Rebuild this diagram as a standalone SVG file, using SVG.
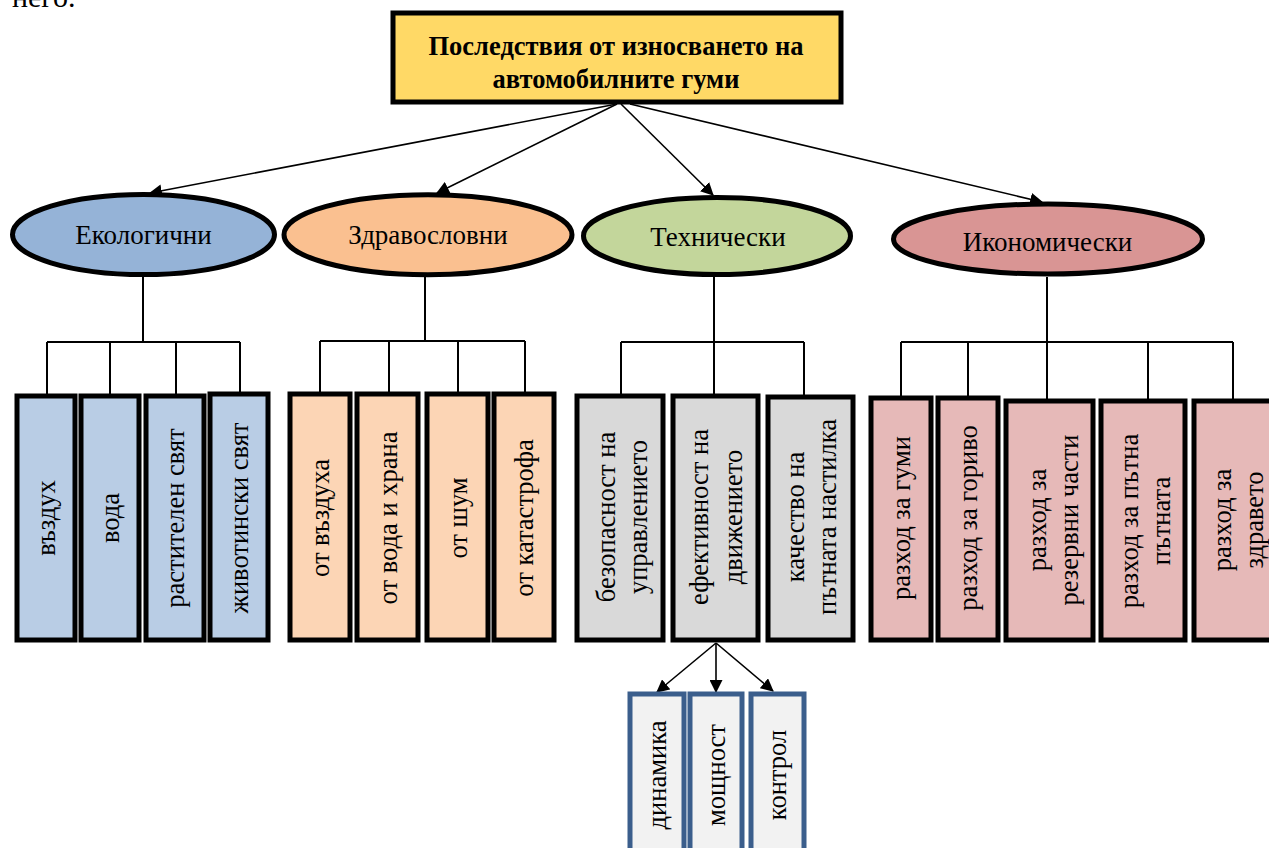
<svg xmlns="http://www.w3.org/2000/svg" width="1269" height="848" viewBox="0 0 1269 848">
<defs>
<marker id="ah" viewBox="0 0 12 12" refX="11" refY="6" markerWidth="13" markerHeight="13" markerUnits="userSpaceOnUse" orient="auto">
<path d="M0,0 L12,6 L0,12 z" fill="#000"/>
</marker>
<style>
text{font-family:"Liberation Serif","Times New Roman",serif;fill:#000}
.t{font-size:26.5px;font-weight:bold;text-anchor:middle}
.e{font-size:27px;text-anchor:middle;dominant-baseline:central}
.v{font-size:26.5px;text-anchor:middle;dominant-baseline:central}
.ell{stroke:#000;stroke-width:5}
.box{stroke:#000;stroke-width:5}
.sb{stroke:#3B5E8C;stroke-width:5;fill:#F2F2F2}
.ln{stroke:#000;stroke-width:2;fill:none}
.ar{stroke:#000;stroke-width:1.6;fill:none;marker-end:url(#ah)}
.eco{fill:#B9CDE5}.hl{fill:#FCD5B5}.te{fill:#D9D9D9}.ec{fill:#E6B9B8}
</style>
</defs>
<rect width="1269" height="848" fill="#fff"/>
<text x="12" y="7" style="font-size:30px">него.</text>

<g id="connectors">
<line class="ar" x1="617" y1="104" x2="150" y2="193"/>
<line class="ar" x1="617" y1="104" x2="437" y2="193"/>
<line class="ar" x1="621" y1="104" x2="713" y2="195"/>
<line class="ar" x1="630" y1="104" x2="1042" y2="202"/>
<path class="ln" d="M143,277 V342 M47,342 H240 M47,342 V395 M110,342 V395 M176,342 V395 M240,342 V393"/>
<path class="ln" d="M425,277 V341 M320,341 H525 M320,341 V393 M389,341 V393 M458,341 V393 M525,341 V393"/>
<path class="ln" d="M714,277 V395 M621,342 H804 M621,342 V395 M804,342 V395"/>
<path class="ln" d="M1047,277 V342 M901,342 H1233 M901,342 V397 M968,342 V397 M1047,342 V400 M1148,342 V400 M1233,342 V400"/>
<line class="ar" x1="716" y1="643" x2="657" y2="692"/>
<line class="ar" x1="716" y1="643" x2="716" y2="692"/>
<line class="ar" x1="716" y1="643" x2="773" y2="691"/>
</g>

<g id="title">
<rect x="393" y="13" width="448" height="89" fill="#FFD966" stroke="#000" stroke-width="5"/>
<text class="t" x="616" y="55">Последствия от износването на</text>
<text class="t" x="616" y="88">автомобилните гуми</text>
</g>

<g id="ekologichni"><ellipse class="ell" cx="143.5" cy="234.5" rx="131" ry="40" fill="#95B3D7"/><text class="e" x="143.5" y="235">Екологични</text></g>
<g id="zdravoslovni"><ellipse class="ell" cx="428" cy="234.7" rx="144" ry="40" fill="#FAC090"/><text class="e" x="428" y="235">Здравословни</text></g>
<g id="tehnicheski"><ellipse class="ell" cx="717" cy="236" rx="133.5" ry="38.5" fill="#C3D69B"/><text class="e" x="718" y="236.5">Технически</text></g>
<g id="ikonomicheski"><ellipse class="ell" cx="1048" cy="239" rx="154.5" ry="35" fill="#D99594"/><text class="e" x="1047.5" y="241.5">Икономически</text></g>

<g id="vazduh"><rect class="box eco" x="17" y="396" width="58" height="244"/><text class="v" transform="translate(46,518) rotate(-90)">въздух</text></g>
<g id="voda"><rect class="box eco" x="81" y="396" width="58" height="244"/><text class="v" transform="translate(110,518) rotate(-90)">вода</text></g>
<g id="rastitelen"><rect class="box eco" x="146" y="396" width="58" height="244"/><text class="v" transform="translate(175,518) rotate(-90)">растителен свят</text></g>
<g id="zhivotinski"><rect class="box eco" x="210" y="394" width="58" height="246"/><text class="v" transform="translate(239,518) rotate(-90)">животински свят</text></g>

<g id="ot-vazduha"><rect class="box hl" x="290" y="394" width="60" height="246"/><text class="v" transform="translate(320,518) rotate(-90)">от въздуха</text></g>
<g id="ot-voda"><rect class="box hl" x="357" y="394" width="61" height="246"/><text class="v" transform="translate(388,518) rotate(-90)">от вода и храна</text></g>
<g id="ot-shum"><rect class="box hl" x="427" y="394" width="61" height="246"/><text class="v" transform="translate(458,518) rotate(-90)">от шум</text></g>
<g id="ot-katastrofa"><rect class="box hl" x="494" y="394" width="60" height="246"/><text class="v" transform="translate(524,518) rotate(-90)">от катастрофа</text></g>

<g id="bezopasnost"><rect class="box te" x="577" y="396" width="86" height="244"/><text class="v" transform="translate(622,517) rotate(-90)"><tspan x="0" y="-16">безопасност на</tspan><tspan x="0" y="16">управлението</tspan></text></g>
<g id="efektivnost"><rect class="box te" x="673" y="396" width="85" height="244"/><text class="v" transform="translate(716,517) rotate(-90)"><tspan x="0" y="-17">ефективност на</tspan><tspan x="0" y="17">движението</tspan></text></g>
<g id="kachestvo"><rect class="box te" x="768" y="397" width="85" height="243"/><text class="v" transform="translate(811,517) rotate(-90)"><tspan x="0" y="-16">качество на</tspan><tspan x="0" y="16">пътната настилка</tspan></text></g>

<g id="gumi"><rect class="box ec" x="871" y="398" width="60" height="242"/><text class="v" transform="translate(901,518) rotate(-90)">разход за гуми</text></g>
<g id="gorivo"><rect class="box ec" x="938" y="398" width="60" height="242"/><text class="v" transform="translate(968,518) rotate(-90)">разход за гориво</text></g>
<g id="rezervni"><rect class="box ec" x="1006" y="401" width="87" height="239"/><text class="v" transform="translate(1053,520) rotate(-90)"><tspan x="0" y="-16">разход за</tspan><tspan x="0" y="16">резервни части</tspan></text></g>
<g id="patna"><rect class="box ec" x="1101" y="401" width="84" height="239"/><text class="v" transform="translate(1145,521) rotate(-90)"><tspan x="0" y="-16">разход за пътна</tspan><tspan x="0" y="16">пътната</tspan></text></g>
<g id="zdrave"><rect class="box ec" x="1194" y="401" width="84" height="239"/><text class="v" transform="translate(1238,520) rotate(-90)"><tspan x="0" y="-16">разход за</tspan><tspan x="0" y="16">здравето</tspan></text></g>

<g id="dinamika"><rect class="sb" x="630" y="694" width="54" height="170"/><text class="v" transform="translate(657,775) rotate(-90)">динамика</text></g>
<g id="moshtnost"><rect class="sb" x="690" y="694" width="52" height="170"/><text class="v" transform="translate(716,775) rotate(-90)">мощност</text></g>
<g id="kontrol"><rect class="sb" x="751" y="694" width="53" height="170"/><text class="v" transform="translate(777,775) rotate(-90)">контрол</text></g>
</svg>
